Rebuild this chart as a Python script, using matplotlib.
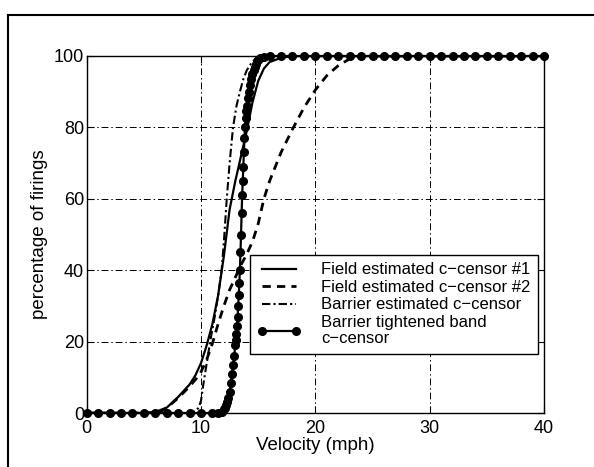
import matplotlib
matplotlib.use("Agg")
import matplotlib.pyplot as plt
from matplotlib.lines import Line2D

plt.rcParams['font.family'] = ['Liberation Sans', 'DejaVu Sans']

# Field estimated c-censor #1 (solid)
f1_x = [0, 5, 6, 7, 8, 9, 9.5, 10, 10.5, 11, 11.5, 12, 12.5, 13, 13.5, 14, 14.5, 15, 15.5, 16, 17, 18, 40]
f1_y = [0, 0, 0.3, 1.5, 4.5, 8, 10.5, 14, 19, 25, 33, 44, 57, 65, 72, 79, 87, 93, 96.5, 98.3, 99.5, 100, 100]

# Field estimated c-censor #2 (dashed)
f2_x = [0, 6, 6.5, 7, 7.5, 8, 8.5, 9, 9.5, 10, 10.5, 11, 11.5, 12, 12.5, 13, 13.5, 14, 14.5, 15,
        15.5, 16, 17, 18, 19, 20, 21, 22, 23, 24, 40]
f2_y = [0, 0, 0.5, 1.5, 2.8, 4.2, 5.8, 7.5, 9.3, 11.5, 15, 19.5, 25, 30, 34.5, 38, 41.5, 44.5, 48, 53,
        60, 65, 73, 79.5, 85.5, 90.5, 94.5, 97.3, 99.2, 100, 100]

# Barrier estimated c-censor (dash-dot)
be_x = [0, 9, 9.5, 9.8, 10, 10.2, 10.5, 10.8, 11.2, 11.5, 11.8, 12, 12.25, 12.5, 12.8, 13.1, 13.4,
        13.7, 14.0, 14.5, 15, 16, 40]
be_y = [0, 0, 0.5, 1.5, 3.5, 8, 14, 20, 27, 33, 40, 48, 60, 70, 80, 86, 90, 93.5, 96, 98.5, 99.5, 100, 100]

# Barrier tightened band c-censor (line with circles)
bt_x = [0, 1, 2, 3, 4, 5, 6, 7, 8, 9, 10, 11, 11.5, 11.8, 12.0, 12.1, 12.2, 12.3, 12.4, 12.5, 12.6,
        12.7, 12.8, 12.9, 13.0, 13.05, 13.1, 13.15, 13.2, 13.25, 13.3, 13.35, 13.4, 13.45, 13.5, 13.55,
        13.6, 13.65, 13.7, 13.75, 13.8, 13.85, 13.9, 13.95, 14.0, 14.1, 14.2, 14.3, 14.4, 14.5, 14.6,
        14.7, 14.8, 14.9, 15.0, 15.2, 15.5, 16, 17, 18, 19, 20, 21, 22, 23, 24, 25, 26, 27, 28, 29, 30,
        31, 32, 33, 34, 35, 36, 37, 38, 39, 40]
bt_y = [0, 0, 0, 0, 0, 0, 0, 0, 0, 0, 0, 0, 0, 0.3, 1, 1.5, 2.2, 3, 4.3, 6, 8.3,
        11, 13.5, 16, 19, 20.5, 22, 24.5, 27, 30, 33, 36.5, 40, 45, 50, 56,
        61, 65, 69, 73, 77, 80, 82.5, 84.5, 86, 88.3, 90, 91.8, 93.5, 95, 96,
        97, 97.8, 98.5, 99, 99.5, 99.8, 100, 100, 100, 100, 100, 100, 100, 100, 100, 100, 100, 100, 100, 100, 100,
        100, 100, 100, 100, 100, 100, 100, 100, 100, 100]

labels = ["Field estimated c\u2212censor #1", "Field estimated c\u2212censor #2",
          "Barrier estimated c\u2212censor", "Barrier tightened band\nc\u2212censor"]
x_ticks = [0, 10, 20, 30, 40]
y_ticks = [0, 20, 40, 60, 80, 100]

fig = plt.figure(figsize=(5.94, 4.67), dpi=100)
ax = fig.add_axes([86.7 / 594, 54 / 467, 457.3 / 594, 357 / 467])

grid_ls = (0, (7, 3, 1.5, 3))
ax.grid(True, color='black', linewidth=0.7, linestyle=grid_ls)
ax.set_axisbelow(True)

ax.plot(f1_x, f1_y, color='black', linewidth=1.6, linestyle='-', label=labels[0])
ax.plot(f2_x, f2_y, color='black', linewidth=2.0, linestyle=(0, (3, 2.2)), label=labels[1])
ax.plot(be_x, be_y, color='black', linewidth=1.5, linestyle=(0, (4, 1.5, 1, 1.5)), label=labels[2])
ax.plot(bt_x, bt_y, color='black', linewidth=1.6, marker='o', markersize=5.5,
        markerfacecolor='black', markeredgecolor='black', clip_on=False, label=labels[3], zorder=5)

ax.set_xlim(0, 40)
ax.set_ylim(0, 100)
ax.set_xticks(x_ticks)
ax.set_yticks(y_ticks)
ax.tick_params(direction='in', length=5, width=0.8, top=True, right=True, labelsize=13, pad=2)
ax.tick_params(axis='x', pad=5)
for s in ax.spines.values():
    s.set_linewidth(1.0)

ax.set_xlabel("Velocity (mph)", fontsize=13.5, labelpad=0)
ax.set_ylabel("percentage of firings", fontsize=13.5, labelpad=4)

leg = ax.legend(loc='upper left', bbox_to_anchor=(0.357, 0.4426), borderaxespad=0,
                fontsize=12, frameon=True, fancybox=False, edgecolor='black',
                handlelength=2.6, handletextpad=1.2, labelspacing=0.15, borderpad=0.45,
                numpoints=2)
leg.get_frame().set_linewidth(1.0)
leg.get_frame().set_alpha(1)
leg.set_zorder(10)
for t in leg.get_texts():
    t.set_linespacing(1.1)

# figure frame (top and left edges)
fig.add_artist(Line2D([8 / 594, 1.0], [1 - 15 / 467, 1 - 15 / 467], transform=fig.transFigure,
                      color='black', linewidth=1.5))
fig.add_artist(Line2D([8 / 594, 8 / 594], [0, 1 - 15 / 467], transform=fig.transFigure,
                      color='black', linewidth=1.5))

fig.savefig("out.png", dpi=100)
